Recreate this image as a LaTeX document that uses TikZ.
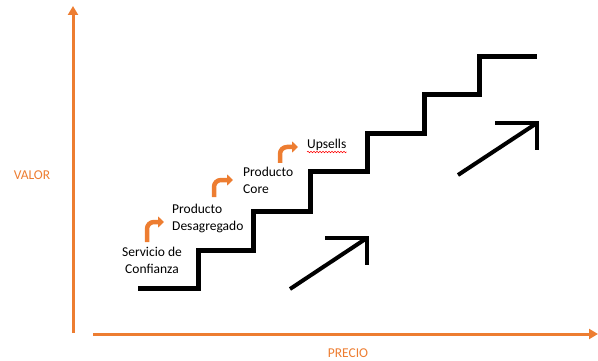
\documentclass[tikz,border=0pt]{standalone}
\usepackage{fontspec}
\setmainfont{Carlito}
\usepackage{tikz}
\usetikzlibrary{arrows.meta,decorations.pathmorphing}
\definecolor{officeorange}{RGB}{237,125,49}
\tikzstyle{axis} = [draw=officeorange, line width=3pt,
-{Triangle[width=10pt,length=9pt]}]
\tikzstyle{axislabel} = [text=officeorange, font=\fontsize{13.5}{16}\selectfont]
\tikzstyle{stair} = [draw=black, line width=5pt]
\tikzstyle{trend} = [draw=black, line width=4pt]
\tikzstyle{stage} = [inner sep=0pt, font=\fontsize{13.5}{17}\selectfont]
\tikzstyle{bent} = [draw=officeorange, line width=4.5pt, rounded corners=7pt,
-{Triangle[width=11pt,length=6pt]}]

\begin{document}
\begin{tikzpicture}[x=1pt,y=-1pt]
\useasboundingbox (0,0) rectangle (598,361);

% axes
\coordinate (origin) at (73,334);
\coordinate (ytop) at (73,6);
\coordinate (xend) at (598,334);
\draw [axis] (73,333) -- (ytop);
\draw [axis] (93,334) -- (xend);
\node (valor) [axislabel] at (32,175) {VALOR};
\node (precio) [axislabel] at (348,353) {PRECIO};

% staircase
\draw [stair] (138,288) -- (198,288) -- (198,250) -- (253,250) -- (253,211)
  -- (310,211) -- (310,171) -- (367,171) -- (367,134) -- (424,134)
  -- (424,95) -- (479,95) -- (479,57) -- (537,57);

% trend arrows
\draw [trend] (290,289) -- (367,238);
\draw [trend] (325,238) -- (367,238) -- (367,265);
\draw [trend] (458,175) -- (537,123);
\draw [trend] (495,123) -- (537,123) -- (537,150);

% stages
\node (servicio) [stage, align=center, anchor=north] at (152,247)
  {Servicio de\\Confianza};
\node (desagregado) [stage, align=left, anchor=north west] at (172,204)
  {Producto\\Desagregado};
\node (core) [stage, align=left, anchor=north west] at (243,167)
  {Producto\\Core};
\node (upsells) [stage, anchor=base west] at (307,149) {Upsells};
\draw [red, line width=0.5pt, decorate,
  decoration={snake, amplitude=0.8pt, segment length=3pt}]
  ([yshift=-3pt]upsells.base west) -- ([yshift=-3pt]upsells.base east);

% small bent arrows
\draw [bent] (147,242) |- (164,222);
\draw [bent] (214,197) |- (233,180);
\draw [bent] (280,163) |- (298,147);

\end{tikzpicture}
\end{document}
